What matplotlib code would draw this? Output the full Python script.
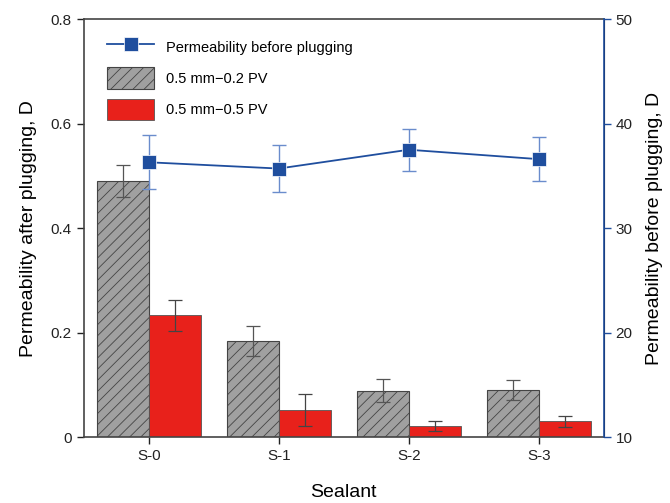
import numpy as np
import matplotlib.pyplot as plt

plt.rcParams['font.family'] = ['Liberation Sans', 'DejaVu Sans']
plt.rcParams['hatch.linewidth'] = 0.6

sealants = ['S-0', 'S-1', 'S-2', 'S-3']

# permeability after plugging, D
perm_02pv = [0.490, 0.184, 0.089, 0.090]
err_02pv = [0.030, 0.029, 0.022, 0.019]
perm_05pv = [0.233, 0.052, 0.021, 0.030]
err_05pv = [0.029, 0.031, 0.010, 0.011]

# permeability before plugging, D
perm_before = [36.3, 35.7, 37.5, 36.6]
err_before = [2.6, 2.25, 2.0, 2.1]

blue = '#1f4e9e'
x = np.arange(len(sealants))
w = 0.4

fig = plt.figure(figsize=(6.7, 5.03), dpi=100)
ax = fig.add_axes([0.125, 0.131, 0.776, 0.831])

b1 = ax.bar(x - w / 2, perm_02pv, w, color='#a0a0a0', edgecolor='#444444',
            linewidth=0.8, hatch='///', label='0.5 mm\u22120.2 PV')
ax.errorbar(x - w / 2, perm_02pv, yerr=err_02pv, fmt='none', ecolor='#555555',
            elinewidth=0.9, capsize=5, capthick=0.9)
b2 = ax.bar(x + w / 2, perm_05pv, w, color='#e8211b', edgecolor='#555555',
            linewidth=0.6, label='0.5 mm\u22120.5 PV')
ax.errorbar(x + w / 2, perm_05pv, yerr=err_05pv, fmt='none', ecolor='#444444',
            elinewidth=0.9, capsize=5, capthick=0.9)

ax.set_xlim(-0.5, 3.5)
ax.set_ylim(0, 0.8)
ax.set_yticks([0, 0.2, 0.4, 0.6, 0.8])
ax.set_yticklabels(['0', '0.2', '0.4', '0.6', '0.8'])
ax.set_xticks(x)
ax.set_xticklabels(sealants)
ax.tick_params(direction='out', labelsize=11, length=5, width=1, colors='#222222')
ax.set_xlabel('Sealant', fontsize=14, labelpad=15)
ax.set_ylabel('Permeability after plugging, D', fontsize=14, labelpad=10)
for s in ['left', 'bottom', 'top']:
    ax.spines[s].set_color('#444444')
    ax.spines[s].set_linewidth(1.2)

ax2 = ax.twinx()
ax2.errorbar(x, perm_before, yerr=err_before, fmt='none', ecolor='#6a8ccc',
             elinewidth=1.0, capsize=5, capthick=1.0, zorder=2)
ln, = ax2.plot(x, perm_before, color=blue, linewidth=1.3, marker='s',
               markersize=10, markeredgecolor='white', markeredgewidth=0.5,
               label='Permeability before plugging', zorder=3)
ax2.set_ylim(10, 50)
ax2.set_yticks([10, 20, 30, 40, 50])
ax2.tick_params(direction='out', labelsize=11, length=5, width=1, color=blue,
                labelcolor='#222222')
ax2.spines['right'].set_color(blue)
ax2.spines['right'].set_linewidth(1.2)
for s in ['left', 'bottom', 'top']:
    ax2.spines[s].set_visible(False)
ax2.set_ylabel('Permeability before plugging, D', fontsize=14, labelpad=10)

ax.legend([ln, b1, b2], [ln.get_label(), b1.get_label(), b2.get_label()],
          loc='upper left', bbox_to_anchor=(0.02, 0.99), frameon=False,
          fontsize=10.5, handlelength=3.2, handleheight=1.9, labelspacing=0.65)

fig.savefig('out.png', dpi=100)
